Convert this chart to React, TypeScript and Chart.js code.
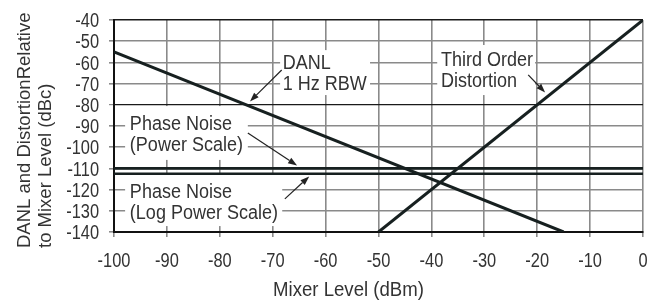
import React, { useEffect, useRef } from 'react';
import { Chart, registerables } from 'chart.js';

Chart.register(...registerables);

// ---- data ----
const xMin = -100;
const xMax = 0;
const yMin = -140;
const yMax = -40;
const tickStep = 10;

const danlX = [-100, -15];
const danlY = [-55, -140];
const toiX = [-50, 0];
const toiY = [-140, -40];
const phaseX = [-100, 0];
const phasePowerY = [-110, -110];
const phaseLogY = [-112.5, -112.5];

const xTitle = 'Mixer Level (dBm)';
const yTitleLines = ['DANL and DistortionRelative', 'to Mixer Level (dBc)'];

// annotation layout (data coordinates)
const annotations = [
  {
    lines: ['DANL', '1 Hz RBW'],
    box: [-68.6, -54.2, -51.6, -75.4],
    text: [-68.1, -63.3],
    arrow: [-68.3, -63.6, -74.3, -78.4],
  },
  {
    lines: ['Third Order', 'Distortion'],
    box: [-38.9, -51.8, -20.4, -75.4],
    text: [-38.2, -61.8],
    arrow: [-21.7, -65.9, -18.5, -74.2],
  },
  {
    lines: ['Phase Noise', '(Power Scale)'],
    box: [-97.9, -80.6, -74.7, -106.0],
    text: [-97.0, -91.8],
    arrow: [-74.7, -93.3, -65.4, -108.6],
  },
  {
    lines: ['Phase Noise', '(Log Power Scale)'],
    box: [-97.9, -112.9, -68.2, -137.2],
    text: [-97.0, -123.9],
    arrow: [-67.7, -124.4, -63.1, -113.8],
  },
];

const toPoints = (xs: number[], ys: number[]) => xs.map((x, i) => ({ x, y: ys[i] }));

const LINE_COLOR = '#172020';
const TEXT_COLOR = '#333333';
const GRID_COLOR = '#8a8a8a';
const FONT = '"Liberation Sans", Arial, sans-serif';

const drawScaled = (ctx: any, text: string, x: number, y: number, sx: number) => {
  ctx.save();
  ctx.translate(x, y);
  ctx.scale(sx, 1);
  ctx.fillText(text, 0, 0);
  ctx.restore();
};

const annotationPlugin = {
  id: 'annotationsPlugin',
  beforeDatasetsDraw(chart: any) {
    const { ctx, scales } = chart;
    const xs = scales.x;
    const ys = scales.y;
    ctx.save();
    ctx.fillStyle = '#ffffff';
    for (const a of annotations) {
      const x1 = xs.getPixelForValue(a.box[0]);
      const y1 = ys.getPixelForValue(a.box[1]);
      const x2 = xs.getPixelForValue(a.box[2]);
      const y2 = ys.getPixelForValue(a.box[3]);
      ctx.fillRect(x1, y1, x2 - x1, y2 - y1);
    }
    ctx.restore();
  },
  afterDatasetsDraw(chart: any) {
    const { ctx, scales } = chart;
    const xs = scales.x;
    const ys = scales.y;
    ctx.save();
    ctx.font = '20px ' + FONT;
    ctx.textAlign = 'left';
    ctx.textBaseline = 'alphabetic';
    for (const a of annotations) {
      ctx.fillStyle = TEXT_COLOR;
      const tx = xs.getPixelForValue(a.text[0]);
      const ty = ys.getPixelForValue(a.text[1]);
      a.lines.forEach((line, i) => drawScaled(ctx, line, tx, ty + i * 20.8, 0.9));
      // arrow
      const ax1 = xs.getPixelForValue(a.arrow[0]);
      const ay1 = ys.getPixelForValue(a.arrow[1]);
      const ax2 = xs.getPixelForValue(a.arrow[2]);
      const ay2 = ys.getPixelForValue(a.arrow[3]);
      const ang = Math.atan2(ay2 - ay1, ax2 - ax1);
      const headLen = 9;
      const headW = 3.2;
      const bx = ax2 - headLen * Math.cos(ang);
      const by = ay2 - headLen * Math.sin(ang);
      ctx.strokeStyle = '#222';
      ctx.lineWidth = 1.2;
      ctx.beginPath();
      ctx.moveTo(ax1, ay1);
      ctx.lineTo(bx, by);
      ctx.stroke();
      ctx.fillStyle = '#222';
      ctx.beginPath();
      ctx.moveTo(ax2, ay2);
      ctx.lineTo(bx + headW * Math.sin(ang), by - headW * Math.cos(ang));
      ctx.lineTo(bx - headW * Math.sin(ang), by + headW * Math.cos(ang));
      ctx.closePath();
      ctx.fill();
    }
    ctx.restore();
  },
  afterDraw(chart: any) {
    const { ctx, chartArea, scales } = chart;
    ctx.save();
    ctx.fillStyle = TEXT_COLOR;
    ctx.textBaseline = 'alphabetic';
    // tick labels (condensed), taken from the library's scales
    ctx.font = '20px ' + FONT;
    ctx.textAlign = 'right';
    for (const t of scales.y.ticks) {
      const py = scales.y.getPixelForValue(t.value);
      drawScaled(ctx, String(t.value), chartArea.left - 15, py + 7.2, 0.82);
    }
    ctx.textAlign = 'center';
    for (const t of scales.x.ticks) {
      const px = scales.x.getPixelForValue(t.value);
      drawScaled(ctx, String(t.value), px, chartArea.bottom + 34.7, 0.82);
    }
    // x title
    ctx.textAlign = 'center';
    drawScaled(ctx, xTitle, (chartArea.left + chartArea.right) / 2 - 30, chartArea.bottom + 63.7, 0.93);
    // y title
    ctx.font = '18.5px ' + FONT;
    ctx.textAlign = 'left';
    yTitleLines.forEach((line, i) => {
      ctx.save();
      ctx.translate(30 + i * 21.3, chartArea.bottom + 16);
      ctx.rotate(-Math.PI / 2);
      ctx.fillText(line, 0, 0);
      ctx.restore();
    });
    ctx.restore();
  },
};

export default function App() {
  const canvasRef = useRef<HTMLCanvasElement | null>(null);

  useEffect(() => {
    document.body.style.margin = '0';
    const canvas = canvasRef.current;
    if (!canvas) return;
    const lineDs = (label: string, xs: number[], ys: number[], width: number) => ({
      label,
      data: toPoints(xs, ys),
      borderColor: LINE_COLOR,
      backgroundColor: LINE_COLOR,
      borderWidth: width,
      pointRadius: 0,
      showLine: true,
      fill: false,
      tension: 0,
      borderCapStyle: 'butt',
    });
    const chart = new Chart(canvas, {
      type: 'scatter',
      data: {
        datasets: [
          lineDs('DANL 1 Hz RBW', danlX, danlY, 3),
          lineDs('Third Order Distortion', toiX, toiY, 3),
          lineDs('Phase Noise (Power Scale)', phaseX, phasePowerY, 2.6),
          lineDs('Phase Noise (Log Power Scale)', phaseX, phaseLogY, 2.6),
        ] as any,
      },
      options: {
        animation: false,
        responsive: false,
        devicePixelRatio: 1,
        layout: { padding: { left: 0, right: 12, top: 20, bottom: 0 } },
        plugins: {
          legend: { display: false },
          tooltip: { enabled: false },
        },
        scales: {
          x: {
            type: 'linear',
            min: xMin,
            max: xMax,
            ticks: {
              display: false,
              stepSize: tickStep,
              autoSkip: false,
            },
            grid: {
              color: GRID_COLOR,
              lineWidth: 1.6,
              tickLength: 5,
              tickColor: GRID_COLOR,
            },
            border: { display: true, color: '#111', width: 2 },
            afterFit(scale: any) {
              scale.height = 70;
            },
          },
          y: {
            type: 'linear',
            min: yMin,
            max: yMax,
            ticks: {
              display: false,
              stepSize: tickStep,
              autoSkip: false,
            },
            grid: {
              color: (c: any) => {
                const v = c.tick ? c.tick.value : null;
                if (v === -80 || v === -40) return '#1a1a1a';
                return GRID_COLOR;
              },
              lineWidth: (c: any) => {
                const v = c.tick ? c.tick.value : null;
                if (v === -80) return 1.2;
                return 1.6;
              },
              tickLength: 5,
              tickColor: GRID_COLOR,
            },
            border: { display: true, color: '#111', width: 2 },
            afterFit(scale: any) {
              scale.width = 114;
            },
          },
        },
      } as any,
      plugins: [annotationPlugin],
    });
    return () => chart.destroy();
  }, []);

  return (
    <div style={{ position: 'absolute', left: 0, top: 0, width: 655, height: 302 }}>
      <canvas ref={canvasRef} width={655} height={302} style={{ display: 'block' }} />
    </div>
  );
}
